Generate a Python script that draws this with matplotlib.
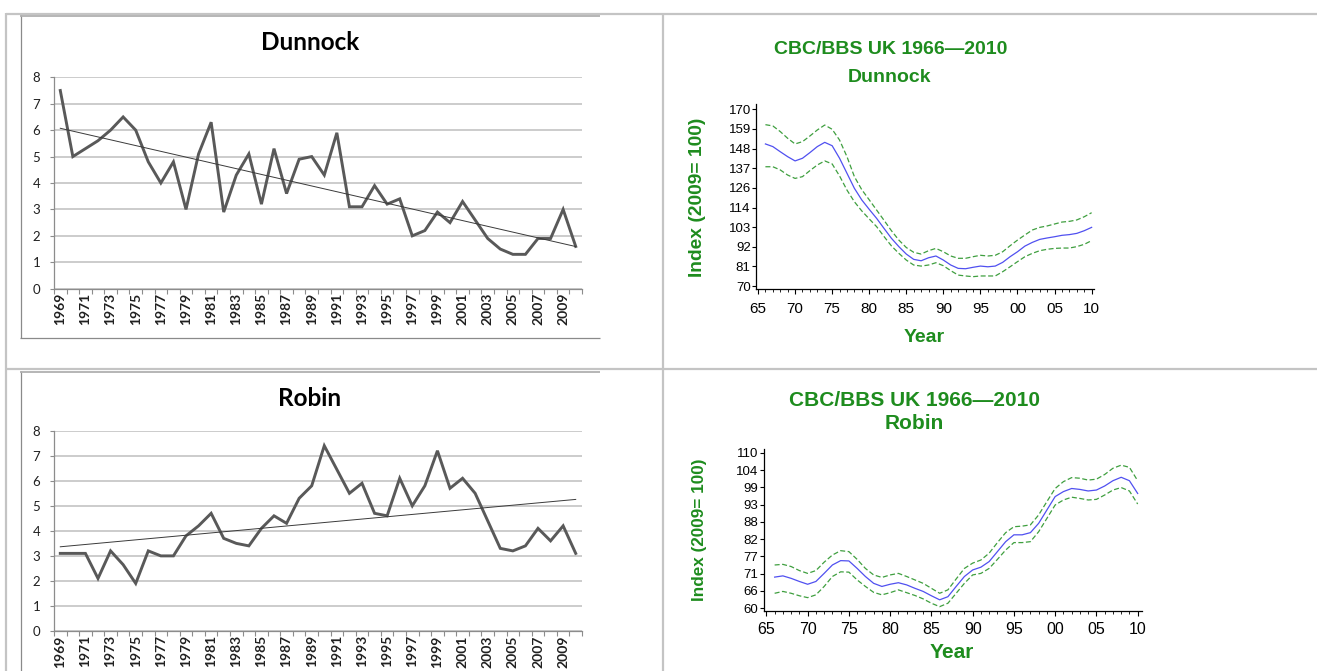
import numpy as np
import matplotlib
matplotlib.use("Agg")
import matplotlib.pyplot as plt
from matplotlib.lines import Line2D
from matplotlib.ticker import MultipleLocator, FixedLocator

# ---------------- data ----------------
count_years = list(range(1969, 2011))
count_tick_labels = [str(y) for y in range(1969, 2010, 2)]
dunnock_counts = [7.5, 5.0, 5.3, 5.6, 6.0, 6.5, 6.0, 4.8, 4.0, 4.8,
                  3.0, 5.1, 6.3, 2.9, 4.3, 5.1, 3.2, 5.3, 3.6, 4.9,
                  5.0, 4.3, 5.9, 3.1, 3.1, 3.9, 3.2, 3.4, 2.0, 2.2,
                  2.9, 2.5, 3.3, 2.6, 1.9, 1.5, 1.3, 1.3, 1.9, 1.9,
                  3.0, 1.6]
robin_counts = [3.1, 3.1, 3.1, 2.1, 3.2, 2.65, 1.9, 3.2, 3.0, 3.0,
                3.8, 4.2, 4.7, 3.7, 3.5, 3.4, 4.1, 4.6, 4.3, 5.3,
                5.8, 7.4, 6.45, 5.5, 5.9, 4.7, 4.6, 6.1, 5.0, 5.8,
                7.2, 5.7, 6.1, 5.5, 4.4, 3.3, 3.2, 3.4, 4.1, 3.6,
                4.2, 3.1]

index_years = list(range(1966, 2011))
index_tick_years = list(range(1965, 2011, 5))
index_tick_labels = ["65", "70", "75", "80", "85", "90", "95", "00", "05", "10"]

dunnock_index = [150.4, 148.9, 146.0, 143.2, 140.8, 142.3, 145.5, 148.9, 151.3, 149.4,
                 142.3, 133.8, 125.3, 118.7, 113.4, 108.3, 102.6, 97.0, 92.3, 88.1,
                 85.1, 84.3, 86.0, 87.0, 84.7, 81.9, 80.0, 79.8, 80.6, 81.3,
                 80.9, 81.3, 83.4, 86.6, 89.4, 92.6, 94.7, 96.4, 97.2, 97.9,
                 98.7, 99.1, 99.8, 101.3, 103.2]
dunnock_upper = [161.3, 160.6, 157.4, 153.6, 150.4, 151.7, 154.9, 158.3, 161.1, 158.7,
                 152.6, 143.2, 131.9, 124.5, 118.8, 113.0, 107.2, 101.3, 96.0, 91.8,
                 89.1, 88.1, 90.0, 91.3, 89.4, 87.0, 85.7, 85.7, 86.6, 87.4,
                 87.0, 87.4, 89.4, 92.8, 96.0, 98.9, 101.7, 103.2, 104.0, 105.1,
                 106.2, 106.6, 107.4, 109.2, 111.5]
dunnock_lower = [137.5, 137.5, 135.7, 132.8, 130.9, 131.9, 135.3, 138.5, 140.8, 139.1,
                 132.3, 124.3, 117.7, 112.5, 108.0, 103.6, 98.0, 92.7, 88.5, 84.7,
                 81.9, 81.3, 81.9, 83.2, 81.5, 78.7, 76.2, 75.7, 75.3, 75.7,
                 75.7, 75.7, 78.1, 80.9, 83.8, 86.6, 88.5, 90.0, 90.8, 91.3,
                 91.5, 91.5, 92.3, 93.6, 95.7]
dunnock_yticks = [70, 81.11, 92.22, 103.33, 114.44, 125.56, 136.67, 147.78, 158.89, 170]
dunnock_ytick_labels = ["70", "81", "92", "103", "114", "126", "137", "148", "159", "170"]

robin_index = [70.0, 70.4, 69.6, 68.6, 67.7, 68.6, 71.2, 73.9, 75.3, 75.2,
               72.8, 70.2, 68.0, 67.0, 67.7, 68.2, 67.5, 66.4, 65.4, 64.0,
               62.7, 63.7, 67.0, 70.2, 72.3, 73.2, 75.0, 78.2, 81.4, 83.6,
               83.6, 84.3, 87.3, 91.6, 95.9, 97.5, 98.5, 98.2, 97.7, 98.0,
               99.3, 101.0, 102.1, 101.0, 96.9]
robin_upper = [73.9, 74.1, 73.4, 72.1, 71.2, 72.1, 74.8, 77.1, 78.5, 78.2,
               75.7, 72.8, 70.7, 69.9, 70.7, 71.2, 70.2, 69.1, 68.0, 66.4,
               64.8, 65.9, 69.4, 72.8, 74.5, 75.5, 77.7, 81.1, 84.3, 86.2,
               86.4, 86.8, 90.0, 94.3, 98.5, 100.7, 102.0, 101.8, 101.2, 101.5,
               103.0, 105.0, 106.0, 105.3, 101.0]
robin_lower = [64.8, 65.4, 64.8, 64.0, 63.4, 64.3, 67.0, 70.2, 71.7, 71.6,
               69.1, 67.0, 65.1, 64.3, 65.0, 65.9, 65.0, 64.1, 63.0, 61.6,
               60.5, 61.6, 64.8, 68.0, 70.7, 71.2, 72.8, 75.7, 78.7, 81.1,
               81.1, 81.4, 84.6, 88.9, 93.2, 94.8, 95.7, 95.3, 94.8, 95.0,
               96.4, 98.0, 98.8, 97.7, 93.5]
robin_yticks = [60, 65.56, 71.11, 76.67, 82.22, 87.78, 93.33, 98.89, 104.44, 110]
robin_ytick_labels = ["60", "66", "71", "77", "82", "88", "93", "99", "104", "110"]

survey_title = "CBC/BBS UK 1966\u20142010"
index_ylabel = "Index (2009= 100)"

# ---------------- figure ----------------
W, H = 1317, 671
fig = plt.figure(figsize=(W / 100, H / 100), dpi=100)
fig.patch.set_facecolor("white")

EXCEL_FONT = ["Lato", "DejaVu Sans"]
SAS_FONT = ["Liberation Sans", "DejaVu Sans"]
GREEN = "#1e8c1e"


def ax_px(x0, y0, x1, y1):
    return fig.add_axes([x0 / W, 1 - y1 / H, (x1 - x0) / W, (y1 - y0) / H])


def fig_line(xs, ys, color, lw):
    fig.add_artist(Line2D([x / W for x in xs], [1 - y / H for y in ys],
                          transform=fig.transFigure, color=color, lw=lw,
                          solid_capstyle="butt"))


def fig_text(x, y, s, **kw):
    fig.text(x / W, 1 - y / H, s, **kw)


# table grid
TBL = "#c4c4c4"
fig_line([6, W], [13.5, 13.5], TBL, 1.6)
fig_line([6, W], [369, 369], TBL, 1.6)
fig_line([6, 6], [13, H], TBL, 1.6)
fig_line([663, 663], [13, H], TBL, 1.6)
# excel picture frames
FR = "#8a8a8a"
fig_line([20.5, 20.5], [15, 338], FR, 0.9)
fig_line([20, 600], [15.5, 15.5], "#b0b0b0", 1.3)
fig_line([20, 600], [338, 338], FR, 0.9)
fig_line([20.5, 20.5], [371, H], FR, 0.9)
fig_line([20, 600], [371.5, 371.5], "#b0b0b0", 1.3)


def excel_chart(box, values, title, title_xy, title_size):
    ax = ax_px(*box)
    x = np.array(count_years, dtype=float)
    y = np.array(values, dtype=float)
    ax.set_xlim(count_years[0] - 0.5, count_years[-1] + 0.5)
    ax.set_ylim(0, 8)
    ax.yaxis.set_major_locator(MultipleLocator(1))
    ax.grid(axis="y", color="#cccccc", lw=1.4)
    ax.set_axisbelow(True)
    ax.plot(x, y, color="#595959", lw=2.1, solid_joinstyle="miter", zorder=3)
    k, b = np.polyfit(x, y, 1)
    ax.plot(x, k * x + b, color="#3a3a3a", lw=0.7, zorder=4)
    for s in ("top", "right"):
        ax.spines[s].set_visible(False)
    for s in ("left", "bottom"):
        ax.spines[s].set_color("#8c8c8c")
        ax.spines[s].set_linewidth(0.9)
    ax.set_xticks([int(l) for l in count_tick_labels])
    ax.set_xticklabels(count_tick_labels, rotation=90, family=EXCEL_FONT,
                       fontsize=10, fontweight="bold", color="#202020")
    ax.xaxis.set_minor_locator(FixedLocator(np.arange(count_years[0] - 0.5, count_years[-1] + 1)))
    ax.tick_params(axis="x", which="major", length=0, pad=3)
    ax.tick_params(axis="x", which="minor", length=3.5, color="#8c8c8c", width=0.8)
    ax.tick_params(axis="y", length=3, color="#8c8c8c", width=0.8, pad=7)
    for t in ax.get_yticklabels():
        t.set_family(EXCEL_FONT)
        t.set_fontsize(9.5)
        t.set_color("#202020")
    fig_text(title_xy[0], title_xy[1], title, family=EXCEL_FONT, fontsize=title_size,
             fontweight="bold", ha="center", va="center", color="black")
    return ax


excel_chart((54, 77.3, 582, 288.7), dunnock_counts, "Dunnock", (310, 43), 17.5)
excel_chart((54, 430.7, 582, 631), robin_counts, "Robin", (310, 399), 17.5)


def sas_chart(box, xlim, ylim, main, up, lo, yticks, ylabels, title_sz,
              title_xy, name, name_xy, ylab_xy, ylab_sz, year_xy, year_sz,
              xpad, xsz):
    ax = ax_px(*box)
    ax.set_xlim(*xlim)
    ax.set_ylim(*ylim)
    ax.plot(index_years, up, color="#3f9f3f", lw=0.9, ls=(0, (4, 2)))
    ax.plot(index_years, lo, color="#3f9f3f", lw=0.9, ls=(0, (4, 2)))
    ax.plot(index_years, main, color="#5050f0", lw=0.9)
    for s in ("top", "right"):
        ax.spines[s].set_visible(False)
    for s in ("left", "bottom"):
        ax.spines[s].set_color("black")
        ax.spines[s].set_linewidth(0.9)
    ax.set_xticks(index_tick_years)
    ax.set_xticklabels(index_tick_labels, family=SAS_FONT, fontsize=xsz)
    ax.xaxis.set_minor_locator(MultipleLocator(1))
    ax.tick_params(axis="x", which="major", length=3.5, width=0.8, pad=xpad)
    ax.tick_params(axis="x", which="minor", length=2.2, width=0.6)
    ax.set_yticks(yticks)
    ax.set_yticklabels(ylabels, family=SAS_FONT, fontsize=9.5)
    ax.tick_params(axis="y", length=3, width=0.8, pad=0.8)
    fig_text(title_xy[0], title_xy[1], survey_title, family=SAS_FONT,
             fontsize=title_sz, fontweight="bold", color=GREEN, ha="center", va="center")
    fig_text(name_xy[0], name_xy[1], name, family=SAS_FONT, fontsize=title_sz,
             fontweight="bold", color=GREEN, ha="center", va="center")
    fig_text(ylab_xy[0], ylab_xy[1], index_ylabel, family=SAS_FONT, fontsize=ylab_sz,
             fontweight="bold", color=GREEN, ha="center", va="center", rotation=90)
    fig_text(year_xy[0], year_xy[1], "Year", family=SAS_FONT, fontsize=year_sz,
             fontweight="bold", color=GREEN, ha="center", va="center")
    return ax


sas_chart((756, 104, 1094, 288.7), (1964.73, 2010.32), (68.5, 173),
          dunnock_index, dunnock_upper, dunnock_lower,
          dunnock_yticks, dunnock_ytick_labels, 14,
          (891, 49), "Dunnock", (890, 77), (698, 197), 13.9, (924, 337), 14,
          6, 11)
sas_chart((763.5, 449.3, 1141.8, 610.7), (1964.65, 2010.5), (59.2, 111.1),
          robin_index, robin_upper, robin_lower,
          robin_yticks, robin_ytick_labels, 15,
          (914.5, 400), "Robin", (914.3, 423.3), (700, 530), 12.3, (952, 653), 15,
          4.5, 11.5)

fig.savefig("out.png", dpi=100, facecolor="white")
